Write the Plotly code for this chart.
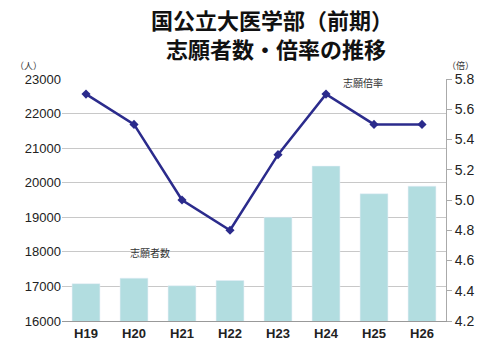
import plotly.graph_objects as go

years = ["H19", "H20", "H21", "H22", "H23", "H24", "H25", "H26"]
applicants = [17080, 17240, 17020, 17170, 19000, 20480, 19680, 19900]
ratio = [5.7, 5.5, 5.0, 4.8, 5.3, 5.7, 5.5, 5.5]
left_ticks = [16000, 17000, 18000, 19000, 20000, 21000, 22000, 23000]
right_ticks = [4.2, 4.4, 4.6, 4.8, 5.0, 5.2, 5.4, 5.6, 5.8]

font = "Liberation Sans, Arial, sans-serif"
cjk = "Noto Sans CJK JP"

W, H = 500, 353
ML, MR, MT, MB = 62, 54, 79, 28
plot_w = W - ML - MR
plot_h = H - MT - MB


def px(pix):
    return (pix - ML) / plot_w


def py(pix):
    return (H - MB - pix) / plot_h


fig = go.Figure()
fig.add_trace(go.Bar(x=years, y=applicants, marker_color="#b2dde0",
                     yaxis="y", showlegend=False))
fig.add_trace(go.Scatter(x=years, y=ratio, yaxis="y2", mode="lines+markers",
                         line=dict(color="#2b2b8c", width=2.5),
                         marker=dict(symbol="diamond", size=7, color="#2b2b8c"),
                         showlegend=False))

fig.update_layout(
    width=W, height=H,
    margin=dict(l=ML, r=MR, t=MT, b=MB),
    paper_bgcolor="white", plot_bgcolor="white",
    bargap=0.42,
    xaxis=dict(showgrid=False, showline=True, linecolor="#999999", linewidth=1,
               tickfont=dict(family=font, size=13, color="#222222"),
               tickprefix="<b>", ticksuffix="</b>", ticks=""),
    yaxis=dict(range=[16000, 23000], tickvals=left_ticks,
               ticktext=[str(v) for v in left_ticks], showgrid=True,
               gridcolor="#c8c8c8", gridwidth=1.2, showline=False, zeroline=False,
               tickfont=dict(family=font, size=13, color="#222222"),
               ticks=""),
    yaxis2=dict(range=[4.2, 5.8], tickvals=right_ticks,
                ticktext=[f"{v:.1f}" for v in right_ticks],
                overlaying="y", side="right",
                showgrid=False, showline=True, linecolor="#aaaaaa", linewidth=1,
                ticks="outside", ticklen=5, tickcolor="#aaaaaa", zeroline=False,
                tickfont=dict(family=font, size=14, color="#222222")),
)


def ann(text, x, y, size, color="#333333"):
    fig.add_annotation(text=text, x=px(x), y=py(y), xref="paper", yref="paper",
                       xanchor="center", yanchor="middle", showarrow=False,
                       font=dict(family=cjk, size=size, color=color))


ann("<b>国公立大医学部（前期）</b>", 272, 18, 22, "#111111")
ann("<b>志願者数・倍率の推移</b>", 276, 47, 22, "#111111")
ann("（人）", 28, 65, 9)
ann("（倍）", 460, 65, 9)
ann("志願倍率", 363, 83, 10)
ann("志願者数", 150, 255, 10)

fig.write_html("out.html")
